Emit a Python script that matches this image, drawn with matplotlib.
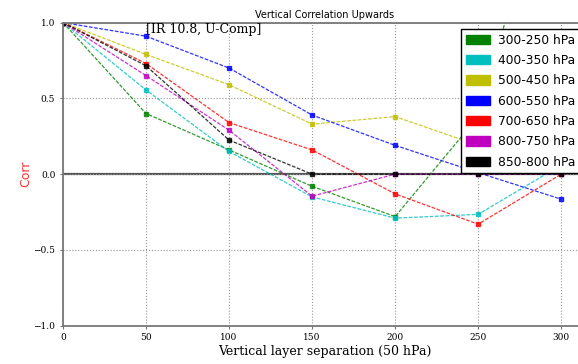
import matplotlib
matplotlib.use('Agg')
import matplotlib.pyplot as plt
import matplotlib.patches as mpatches

# layer separation (hPa)
sep = [0, 50, 100, 150, 200, 250, 300]

labels = ['300-250 hPa', '400-350 hPa', '500-450 hPa', '600-550 hPa',
          '700-650 hPa', '800-750 hPa', '850-800 hPa']
colors = ['g', 'c', 'y', 'b', 'r', 'm', 'k']

corr_300 = [1.0, 0.40, 0.16, -0.08, -0.28, 0.38, 2.3]
corr_400 = [1.0, 0.555, 0.15, -0.15, -0.29, -0.265, 0.06]
corr_500 = [1.0, 0.79, 0.59, 0.33, 0.38, 0.19, 0.15]
corr_600 = [1.0, 0.91, 0.70, 0.39, 0.19, 0.01, -0.165]
corr_700 = [1.0, 0.73, 0.34, 0.16, -0.13, -0.33, 0.0]
corr_800 = [1.0, 0.65, 0.29, -0.145, 0.0, 0.0, 0.0]
corr_850 = [1.0, 0.715, 0.225, 0.0, 0.0, 0.0, 0.0]

series = [corr_300, corr_400, corr_500, corr_600, corr_700, corr_800, corr_850]

fig = plt.figure(figsize=(5.78, 3.64), dpi=100)
ax = fig.add_axes([0.109, 0.105, 0.905, 0.833])

for s, c in zip(series, colors):
    ax.plot(sep, s, color=c, marker='s', markersize=3.5, linewidth=0.9,
            linestyle=(0, (3, 1.2)), markeredgecolor=c, alpha=0.8)

ax.axhline(0, color='#555555', linewidth=1.6, zorder=1)
ax.set_xlim(0, 315)
ax.set_ylim(-1, 1)
ax.set_xticks(sep)
ax.set_yticks([-1.0, -0.5, 0.0, 0.5, 1.0])
ax.grid(True, linestyle=':', color='#999999', linewidth=0.8)
for sp in ax.spines.values():
    sp.set_color('#777777')
    sp.set_linewidth(1.3)
ax.tick_params(labelsize=6.5, length=2, color='#777777')
for lab in ax.get_xticklabels() + ax.get_yticklabels():
    lab.set_family('DejaVu Serif')

ax.set_title('Vertical Correlation Upwards', fontsize=7, pad=3)
ax.set_xlabel('Vertical layer separation (50 hPa)', family='DejaVu Serif',
              fontsize=9, labelpad=2)
ax.set_ylabel('Corr', color='#ff3333', fontsize=9, labelpad=1)
ax.text(50, 0.995, '[IR 10.8, U-Comp]', family='DejaVu Serif', fontsize=9,
        va='top', ha='left')

handles = [mpatches.Patch(color=c, label=l) for c, l in zip(colors, labels)]
leg = ax.legend(handles=handles, loc='upper right', fontsize=8.8,
                fancybox=False, edgecolor='black', framealpha=1,
                borderaxespad=0.5, handlelength=2.0, handleheight=0.8,
                handletextpad=0.6, labelspacing=0.6, borderpad=0.4)
leg.get_frame().set_linewidth(1.0)

fig.savefig('out.png', dpi=100)
